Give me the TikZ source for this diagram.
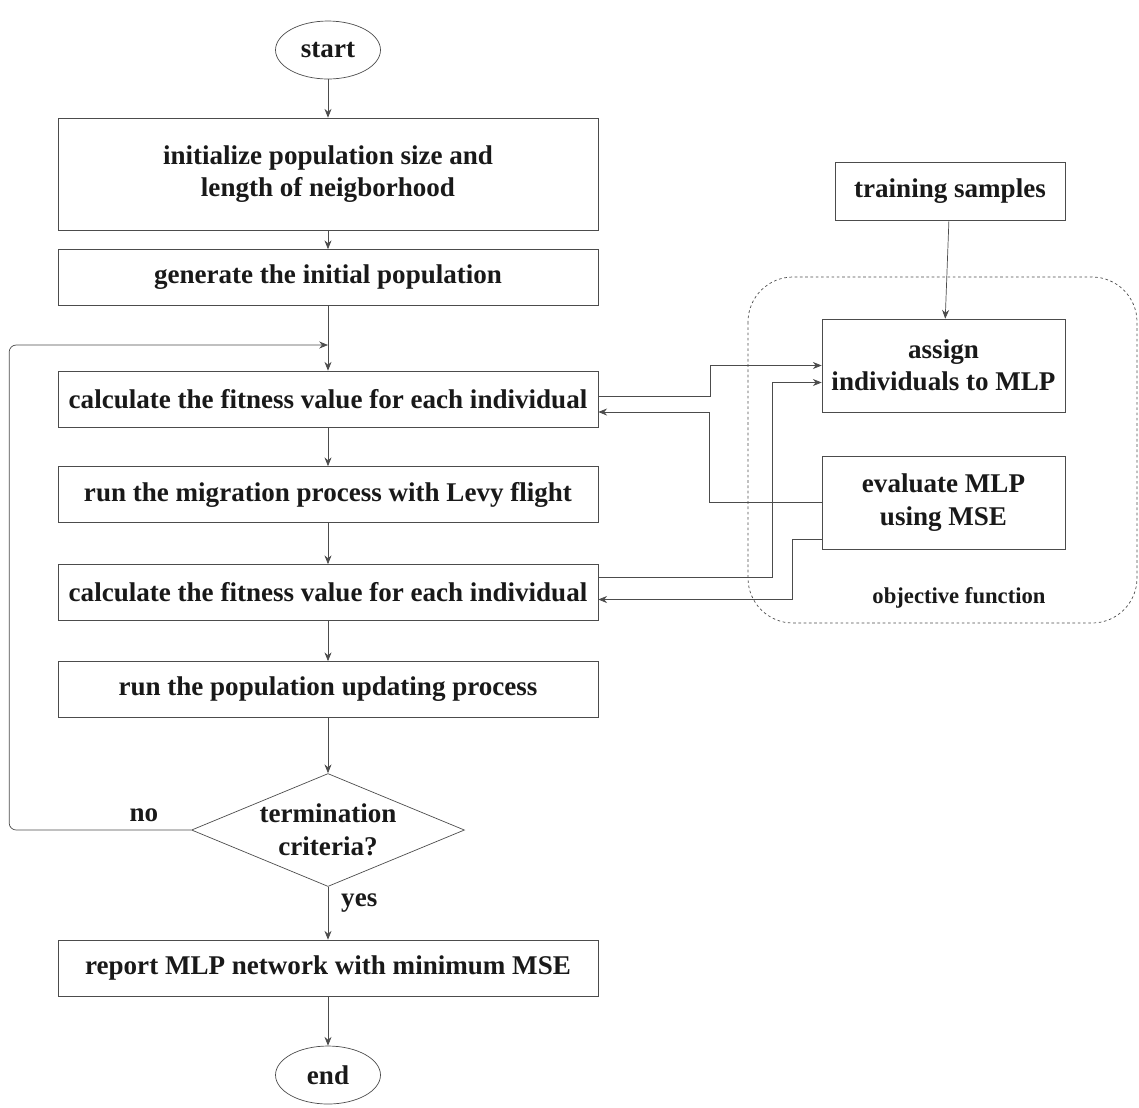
\documentclass[tikz,border=0pt]{standalone}
\usepackage{fontspec}
\setmainfont{Liberation Serif}
\usetikzlibrary{shapes.geometric,arrows.meta,positioning,calc}

\begin{document}
\begin{tikzpicture}[x=0.02cm,y=-0.02cm] % one unit = one pixel of the reference
\tikzset{every node/.style={font=\bfseries\fontsize{15.4}{18.5}\selectfont, text=black!90}}
\tikzset{procbox/.style={draw=black!70, rectangle, minimum width=10.8cm, minimum height=1.12cm, align=center}}
\tikzset{sidebox/.style={draw=black!70, rectangle, minimum width=4.86cm, minimum height=1.86cm, align=center}}
\tikzset{termin/.style={draw=black!70, ellipse, minimum width=2.1cm, minimum height=1.16cm}}
\tikzset{arr/.style={draw=black!70, -{Stealth[length=5pt,width=4pt]}}}
\useasboundingbox (0,0) rectangle (1139,1107);
% main column
\node[termin] (start) at (328,50) {start};
\node[procbox, minimum height=2.24cm] (init) at (328,174) {initialize population size and\\length of neigborhood};
\node[procbox] (gen) at (328,277.5) {generate the initial population};
\node[procbox] (calcA) at (328,399) {calculate the fitness value for each individual};
\node[procbox] (migr) at (328,494.5) {run the migration process with Levy flight};
\node[procbox] (calcB) at (328,592.5) {calculate the fitness value for each individual};
\node[procbox] (upd) at (328,689.5) {run the population updating process};
\node[draw=black!70, diamond, aspect=2.4, inner sep=0pt, minimum width=5.46cm, minimum height=2.26cm, align=center] (decide) at (328,830) {termination\\criteria?};
\node[procbox] (report) at (328,968) {report MLP network with minimum MSE};
\node[termin] (end) at (328,1075) {end};
\coordinate (loopin) at (328,345);
% objective function
\draw[black!70, dash pattern=on 1.5pt off 1.5pt, rounded corners=0.9cm] (748,277) rectangle (1137,623);
\node[draw=black!70, rectangle, minimum width=4.6cm, minimum height=1.16cm] (train) at (950,191) {training samples};
\node[sidebox] (assign) at (943.5,365.5) {assign\\individuals to MLP};
\node[sidebox] (evalm) at (943.5,502.5) {evaluate MLP\\using MSE};
\node[font=\bfseries\fontsize{12.9}{15}\selectfont] (objf) at (959,598) {objective function};
% flow
\draw[arr] (start) -- (init);
\draw[arr] (init) -- (gen);
\draw[arr] (gen) -- (calcA);
\draw[arr] (calcA) -- (migr);
\draw[arr] (migr) -- (calcB);
\draw[arr] (calcB) -- (upd);
\draw[arr] (upd) -- (decide);
\draw[arr] (decide) -- (report) node[pos=0.3, right=4pt] {yes};
\draw[arr] (report) -- (end);
\draw[arr, rounded corners=4pt] (decide.west) -- ++(-182,0) node[pos=0.26, above=1pt] {no} |- (loopin);
\draw[arr] (train) -- (assign);
% links to the objective function
\draw[arr] ($(calcA.east)+(0,-3)$) -- ++(112,0) |- (assign.west);
\draw[arr] (evalm.west) -- ++(-112,0) |- ($(calcA.east)+(0,13)$);
\draw[arr] ($(calcB.east)+(0,-15)$) -- ++(174,0) |- ($(assign.west)+(0,17)$);
\draw[arr] ($(evalm.west)+(0,37)$) -- ++(-29,0) |- ($(calcB.east)+(0,7)$);
\end{tikzpicture}
\end{document}
